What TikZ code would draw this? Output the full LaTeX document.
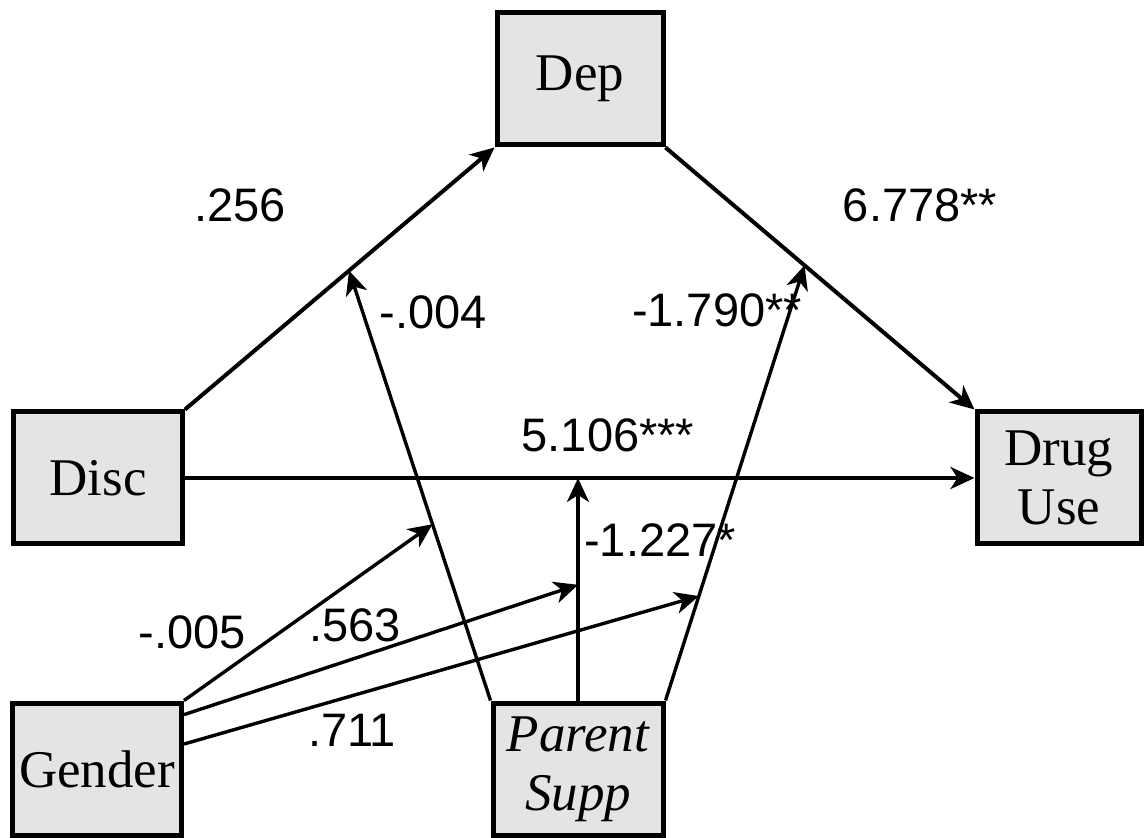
\documentclass[tikz,border=0pt]{standalone}
\usepackage{fontspec}
\setmainfont{Liberation Serif}
\setsansfont{Liberation Sans}
\usetikzlibrary{arrows.meta}
\definecolor{boxgray}{RGB}{228,228,228}

\begin{document}
\begin{tikzpicture}[x=0.5pt,y=-0.5pt,
    var/.style={draw,line width=2.5pt,fill=boxgray,minimum height=66pt,inner sep=0pt,align=center,font=\fontsize{26.5}{29.5}\selectfont},
    link/.style={line width=2pt,-{Stealth[length=12pt,width=11pt,inset=3.5pt]}},
    thin link/.style={link,line width=1.7pt},
    coef/.style={inner sep=0pt,font=\sffamily\fontsize{23.5}{28}\selectfont}]
                \useasboundingbox (0,0) rectangle (1145,838);
                % variables
                \node[var,minimum width=83pt] (dep) at (580,79) {Dep};
                \node[var,minimum width=84.5pt] (disc) at (98,478) {Disc};
                \node[var,minimum width=82pt] (druguse) at (1059,478) {Drug\\Use};
                \node[var,minimum width=84.5pt] (gender) at (97,769) {Gender};
                \node[var,minimum width=85pt] (parent) at (578,769) {\itshape Parent\\\itshape Supp};
                % main paths
                \draw[link] (disc.north east) -- (dep.south west) coordinate[pos=0.53] (mA);
                \draw[link] (disc.east) -- (druguse.west) coordinate[pos=0.5] (mB);
                \draw[link] (dep.south east) -- (druguse.north west) coordinate[pos=0.45] (mC);
                % moderator
                \draw[thin link] (parent.north west) -- (mA) coordinate[pos=0.41] (pA);
                \draw[thin link] (parent.north) -- (parent.north |- mB) coordinate[pos=0.52] (pB);
                \draw[thin link] (parent.north east) -- (mC) coordinate[pos=0.24] (pC);
                \draw[thin link] (gender.north east) -- (pA);
                \draw[thin link] (gender.32) -- (pB);
                \draw[thin link] (gender.16.5) -- (pC);
                % coefficients
                \node[coef] (cA) at (240,205) {.256};
                \node[coef] (cB) at (920,205) {6.778**};
                \node[coef] (cC) at (433,312) {-.004};
                \node[coef] (cD) at (717,310) {-1.790**};
                \node[coef] (cE) at (608,435) {5.106***};
                \node[coef] (cF) at (660,540) {-1.227*};
                \node[coef] (cG) at (192,632) {-.005};
                \node[coef] (cH) at (355,625) {.563};
                \node[coef] (cI) at (352,730) {.711};
            \end{tikzpicture}
\end{document}
